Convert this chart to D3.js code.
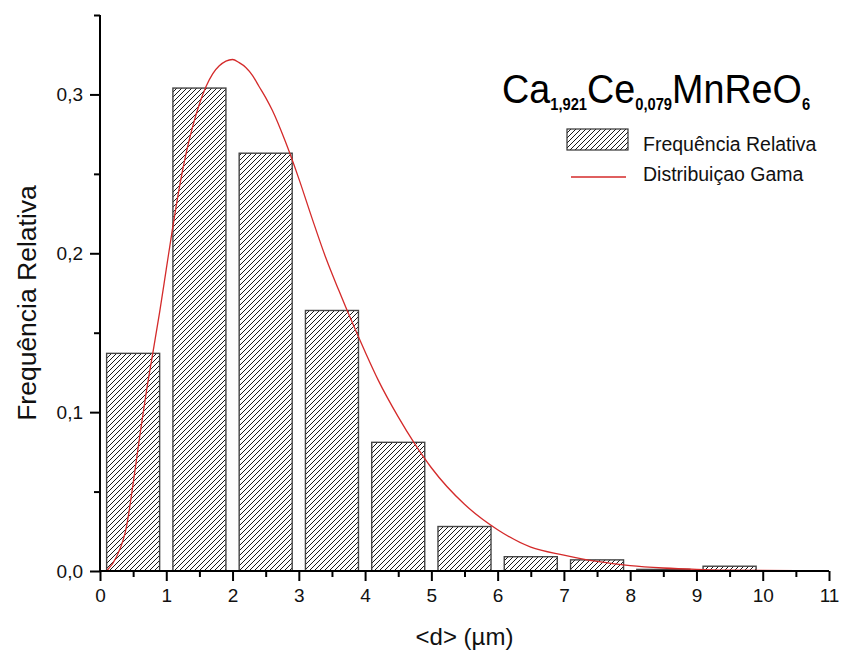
<!DOCTYPE html>
<html>
<head>
<meta charset="utf-8">
<script src="https://cdn.jsdelivr.net/npm/d3@7/dist/d3.min.js"></script>
<style>
  html, body { margin: 0; padding: 0; background: #fff; }
  svg { display: block; font-family: "Liberation Sans", Arial, sans-serif; }
</style>
</head>
<body>
<svg id="chart" width="841" height="656"></svg>
<script>
// Histogram bins (centre of each 1 µm class) and relative frequencies
const binCenters = [0.5, 1.5, 2.5, 3.5, 4.5, 5.5, 6.5, 7.5, 8.5, 9.5];
const relFreq    = [0.137, 0.304, 0.263, 0.164, 0.081, 0.028, 0.009, 0.007, 0.001, 0.003];

// Gamma distribution curve, sampled points
const gammaX = [0.1, 0.25, 0.4, 0.5, 0.6, 0.7, 0.8, 0.9, 1.0, 1.1, 1.2, 1.3, 1.4, 1.5, 1.6, 1.7, 1.8, 1.9, 2.0,
                2.1, 2.2, 2.3, 2.4, 2.5, 2.6, 2.8, 3.0, 3.2, 3.4, 3.6, 3.8, 4.0, 4.2, 4.5, 4.75, 5.0, 5.5,
                6.0, 6.5, 7.0, 7.5, 8.0, 8.5, 9.0, 9.5, 10.0, 11.0];
const gammaY = [0.0, 0.009, 0.028, 0.055, 0.085, 0.113, 0.138, 0.163, 0.190, 0.217, 0.242, 0.263, 0.280, 0.294, 0.305, 0.313, 0.318, 0.321, 0.322,
                0.320, 0.317, 0.312, 0.305, 0.298, 0.290, 0.270, 0.247, 0.222, 0.198, 0.177, 0.157, 0.138, 0.120, 0.097, 0.080, 0.065, 0.042,
                0.026, 0.015, 0.010, 0.006, 0.0034, 0.0019, 0.0010, 0.0005, 0.0003, 0.0001];

const xTicks = d3.range(0, 12);
const yTicks = [0, 0.1, 0.2, 0.3];
const yTickLabels = ["0,0", "0,1", "0,2", "0,3"];
const binWidth = 0.8;

const svg = d3.select("#chart");

const x = d3.scaleLinear().domain([0, 11]).range([100, 829]);
const y = d3.scaleLinear().domain([0, 0.35]).range([571, 15]);

// Diagonal hatch fill
const defs = svg.append("defs");
const hatch = defs.append("pattern")
  .attr("id", "hatch")
  .attr("patternUnits", "userSpaceOnUse")
  .attr("width", 5).attr("height", 5);
hatch.append("path")
  .attr("d", "M0,5 L5,0 M-1,1 L1,-1 M4,6 L6,4")
  .attr("stroke", "#1a1a1a").attr("stroke-width", 1).attr("fill", "none");

// Bars
svg.append("g").selectAll("rect")
  .data(binCenters.map((c, i) => ({ c, v: relFreq[i] })))
  .join("rect")
  .attr("x", d => x(d.c - binWidth / 2))
  .attr("width", d => x(d.c + binWidth / 2) - x(d.c - binWidth / 2))
  .attr("y", d => y(d.v))
  .attr("height", d => y(0) - y(d.v))
  .attr("fill", "url(#hatch)")
  .attr("stroke", "#444")
  .attr("stroke-width", 1.4);

// Gamma curve
const line = d3.line()
  .x((d, i) => x(gammaX[i]))
  .y(d => y(d))
  .curve(d3.curveMonotoneX);
svg.append("path")
  .attr("d", line(gammaY))
  .attr("fill", "none")
  .attr("stroke", "#d42a2a")
  .attr("stroke-width", 1.3);

// X axis: minor ticks then major ticks with labels
const xMinor = svg.append("g").attr("transform", `translate(0,${y(0)})`)
  .call(d3.axisBottom(x).tickValues(d3.range(0.5, 11, 1)).tickSize(6).tickFormat(""));
const xAxis = svg.append("g").attr("transform", `translate(0,${y(0)})`)
  .call(d3.axisBottom(x).tickValues(xTicks).tickSize(10).tickPadding(8).tickFormat(d3.format("d")));

// Y axis
const yMinor = svg.append("g").attr("transform", `translate(${x(0)},0)`)
  .call(d3.axisLeft(y).tickValues([0.05, 0.15, 0.25, 0.35]).tickSize(6).tickFormat(""));
const yAxis = svg.append("g").attr("transform", `translate(${x(0)},0)`)
  .call(d3.axisLeft(y).tickValues(yTicks).tickSize(10).tickPadding(7)
    .tickFormat((d, i) => yTickLabels[i]));

[xMinor, xAxis, yMinor, yAxis].forEach(g => {
  g.select(".domain").attr("stroke", "#000").attr("stroke-width", 2);
  g.selectAll(".tick line").attr("stroke", "#000").attr("stroke-width", 2);
  g.selectAll(".tick text").attr("fill", "#111").attr("font-size", 19)
    .attr("font-family", "Liberation Sans, Arial, sans-serif");
});
xMinor.select(".domain").attr("d", `M${x(0)},0H${x(11)}`);
xAxis.select(".domain").attr("d", `M${x(0)},0H${x(11)}`);
yMinor.select(".domain").attr("d", `M0,${y(0) + 1}V${y(0.35)}`);
yAxis.select(".domain").attr("d", `M0,${y(0) + 1}V${y(0.35)}`);

// Axis titles
svg.append("text")
  .attr("x", (x(0) + x(11)) / 2).attr("y", 645)
  .attr("text-anchor", "middle")
  .attr("font-size", 24).attr("fill", "#111")
  .text("<d> (µm)");

svg.append("text")
  .attr("transform", `translate(36,${(y(0) + y(0.35)) / 2 + 10}) rotate(-90)`)
  .attr("text-anchor", "middle")
  .attr("font-size", 26.5).attr("fill", "#111")
  .text("Frequência Relativa");

// Compound formula
const title = svg.append("text")
  .attr("transform", "translate(502,103) scale(0.92,1)")
  .attr("font-size", 41).attr("fill", "#000");
const parts = [
  ["Ca", false], ["1,921", true], ["Ce", false], ["0,079", true], ["MnReO", false], ["6", true]
];
parts.forEach(([t, sub], i) => {
  const ts = title.append("tspan").text(t);
  const prevSub = i > 0 && parts[i - 1][1];
  if (sub) ts.attr("font-size", 16).attr("font-weight", "bold").attr("dy", 7);
  else if (prevSub) ts.attr("dy", -7);
});

// Legend
const lg = svg.append("g");
lg.append("rect")
  .attr("x", 567).attr("y", 129).attr("width", 61).attr("height", 21)
  .attr("fill", "url(#hatch)").attr("stroke", "#333").attr("stroke-width", 1.2);
lg.append("text").attr("x", 643).attr("y", 151)
  .attr("font-size", 19.5).attr("fill", "#111").text("Frequência Relativa");
lg.append("line")
  .attr("x1", 571).attr("x2", 626).attr("y1", 177).attr("y2", 177)
  .attr("stroke", "#d42a2a").attr("stroke-width", 1.3);
lg.append("text").attr("x", 643).attr("y", 181)
  .attr("font-size", 19.5).attr("fill", "#111").text("Distribuiçao Gama");
</script>
</body>
</html>
